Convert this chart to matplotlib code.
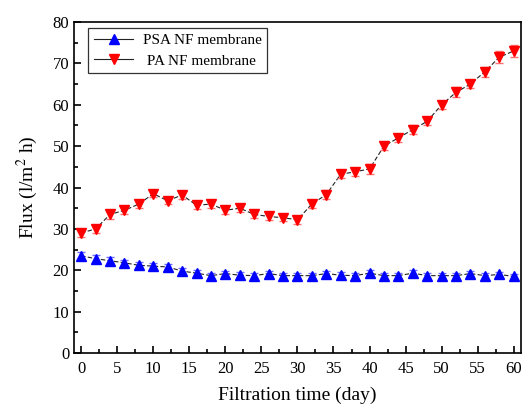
import matplotlib
matplotlib.use("Agg")
import matplotlib.pyplot as plt
from matplotlib.ticker import MultipleLocator

plt.rcParams['font.family'] = ['Liberation Serif', 'DejaVu Serif']
plt.rcParams['mathtext.fontset'] = 'stix'

days = list(range(0, 61, 2))

psa_flux = [23.5, 22.8, 22.3, 21.8, 21.2, 21.0, 20.8, 19.8, 19.3, 18.7,
            19.2, 18.8, 18.7, 19.2, 18.7, 18.7, 18.7, 19.2, 18.8, 18.7,
            19.3, 18.7, 18.7, 19.3, 18.7, 18.7, 18.7, 19.2, 18.7, 19.0, 18.5]
psa_err = [1.0, 0.9, 0.8, 0.8, 0.7, 0.7, 0.8, 0.7, 0.7, 0.7,
           0.7, 0.7, 0.7, 0.7, 0.7, 0.7, 0.7, 0.7, 0.7, 0.7,
           0.7, 0.7, 0.7, 0.7, 0.7, 0.7, 0.7, 0.7, 0.7, 0.7, 0.7]

pa_flux = [29.0, 30.0, 33.5, 34.5, 36.0, 38.5, 36.8, 38.2, 35.7, 36.0,
           34.5, 35.0, 33.5, 33.0, 32.7, 32.2, 36.0, 38.3, 43.2, 43.8,
           44.5, 50.0, 52.0, 54.0, 56.0, 60.0, 63.0, 65.0, 68.0, 71.5, 73.0]
pa_err = [1.0, 0.9, 1.0, 0.9, 0.9, 0.9, 0.9, 0.9, 0.9, 0.9,
          0.9, 0.9, 0.9, 0.9, 0.9, 1.0, 1.0, 1.0, 1.0, 1.0,
          1.2, 1.0, 1.0, 1.0, 1.0, 1.0, 1.2, 1.0, 1.2, 1.4, 1.4]

fig = plt.figure(figsize=(5.23, 4.04), dpi=100)
ax = fig.add_axes([0.1415, 0.1262, 0.8545, 0.8193])

ax.errorbar(days, psa_flux, yerr=psa_err, fmt='^', color='blue', ms=6.5,
            ecolor='#6f6fff', elinewidth=1.0, capsize=3, capthick=1.0, zorder=3)
ax.plot(days, psa_flux, ls=(0, (4, 2)), color='#222222', lw=0.8, zorder=2)

ax.errorbar(days, pa_flux, yerr=pa_err, fmt='v', color='red', ms=6.5,
            ecolor='#ff6f6f', elinewidth=1.0, capsize=3, capthick=1.0, zorder=3)
ax.plot(days, pa_flux, ls=(0, (4, 2)), color='#222222', lw=0.8, zorder=2)

# legend proxies: dark line through a colored marker
h1, = ax.plot([], [], '-', color='#222222', lw=0.8, marker='^', mfc='blue', mec='blue', ms=6.5)
h2, = ax.plot([], [], '-', color='#222222', lw=0.8, marker='v', mfc='red', mec='red', ms=6.5)
leg = ax.legend([h1, h2], ['PSA NF membrane', ' PA NF membrane'], loc='upper left',
                bbox_to_anchor=(0.015, 1.005), fontsize=11, frameon=True, fancybox=False,
                edgecolor='black', handlelength=2.6, borderpad=0.35, labelspacing=0.45,
                handletextpad=0.6)
leg.get_frame().set_linewidth(0.9)

ax.set_xlim(-1, 61)
ax.set_ylim(0, 80)
ax.xaxis.set_major_locator(MultipleLocator(5))
ax.xaxis.set_minor_locator(MultipleLocator(2.5))
ax.yaxis.set_major_locator(MultipleLocator(10))
ax.yaxis.set_minor_locator(MultipleLocator(5))
ax.tick_params(which='both', direction='in', top=False, right=False, labelsize=12, width=1.2)
ax.tick_params(which='major', length=5)
ax.tick_params(which='minor', length=3)
ax.tick_params(axis='x', pad=6)
for s in ax.spines.values():
    s.set_linewidth(1.2)

ax.set_xlabel('Filtration time (day)', fontsize=14, labelpad=7)
ax.set_ylabel('Flux (l/m$^2$ h)', fontsize=14, labelpad=9)

fig.savefig('out.png', dpi=100)
